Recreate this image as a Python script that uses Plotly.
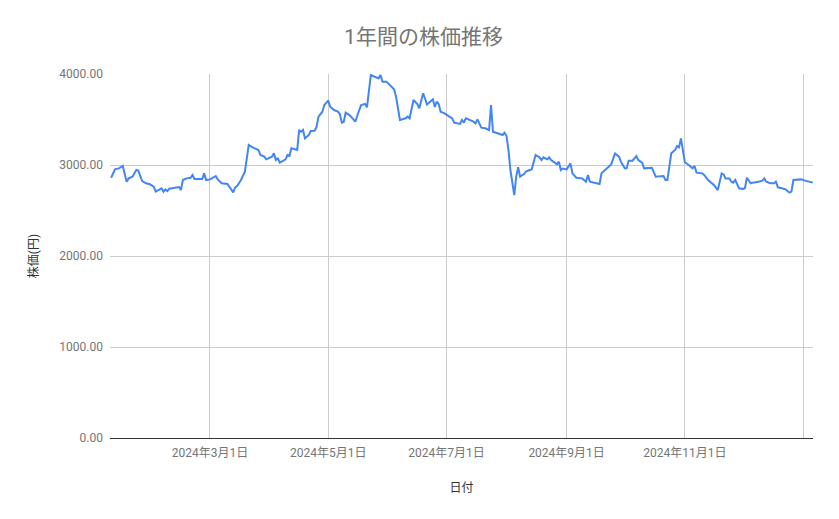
import plotly.graph_objects as go

# daily closing prices (yen)
dates = [
    "2024-01-10", "2024-01-11", "2024-01-12", "2024-01-14", "2024-01-16",
    "2024-01-18", "2024-01-19", "2024-01-21", "2024-01-23", "2024-01-24",
    "2024-01-26", "2024-01-28", "2024-01-30", "2024-02-01", "2024-02-02",
    "2024-02-05", "2024-02-06", "2024-02-07", "2024-02-08", "2024-02-09",
    "2024-02-12", "2024-02-14", "2024-02-15", "2024-02-16", "2024-02-18",
    "2024-02-20", "2024-02-21", "2024-02-22", "2024-02-24", "2024-02-26",
    "2024-02-27", "2024-02-28", "2024-03-01", "2024-03-04", "2024-03-05",
    "2024-03-07", "2024-03-10", "2024-03-11", "2024-03-13", "2024-03-14",
    "2024-03-15", "2024-03-17", "2024-03-19", "2024-03-20", "2024-03-21",
    "2024-03-23", "2024-03-26", "2024-03-27", "2024-03-29", "2024-03-30",
    "2024-03-31", "2024-04-02", "2024-04-03", "2024-04-04", "2024-04-05",
    "2024-04-06", "2024-04-07", "2024-04-09", "2024-04-10", "2024-04-11",
    "2024-04-12", "2024-04-14", "2024-04-15", "2024-04-16", "2024-04-17",
    "2024-04-18", "2024-04-19", "2024-04-21", "2024-04-22", "2024-04-24",
    "2024-04-25", "2024-04-26", "2024-04-28", "2024-04-29", "2024-05-01",
    "2024-05-02", "2024-05-04", "2024-05-06", "2024-05-07", "2024-05-08",
    "2024-05-09", "2024-05-10", "2024-05-12", "2024-05-14", "2024-05-15",
    "2024-05-17", "2024-05-18", "2024-05-20", "2024-05-21", "2024-05-23",
    "2024-05-25", "2024-05-27", "2024-05-28", "2024-05-29", "2024-05-31",
    "2024-06-02", "2024-06-04", "2024-06-05", "2024-06-07", "2024-06-10",
    "2024-06-11", "2024-06-12", "2024-06-14", "2024-06-16", "2024-06-17",
    "2024-06-19", "2024-06-21", "2024-06-22", "2024-06-24", "2024-06-25",
    "2024-06-26", "2024-06-27", "2024-06-28", "2024-06-30", "2024-07-02",
    "2024-07-04", "2024-07-05", "2024-07-08", "2024-07-09", "2024-07-10",
    "2024-07-11", "2024-07-13", "2024-07-15", "2024-07-16", "2024-07-17",
    "2024-07-19", "2024-07-21", "2024-07-23", "2024-07-24", "2024-07-25",
    "2024-07-28", "2024-07-30", "2024-07-31", "2024-08-01", "2024-08-02",
    "2024-08-03", "2024-08-05", "2024-08-06", "2024-08-07", "2024-08-08",
    "2024-08-10", "2024-08-11", "2024-08-13", "2024-08-14", "2024-08-16",
    "2024-08-18", "2024-08-19", "2024-08-20", "2024-08-22", "2024-08-23",
    "2024-08-24", "2024-08-26", "2024-08-27", "2024-08-28", "2024-08-29",
    "2024-08-30", "2024-09-01", "2024-09-03", "2024-09-04", "2024-09-06",
    "2024-09-09", "2024-09-11", "2024-09-12", "2024-09-13", "2024-09-16",
    "2024-09-18", "2024-09-19", "2024-09-22", "2024-09-24", "2024-09-26",
    "2024-09-28", "2024-09-29", "2024-10-01", "2024-10-02", "2024-10-03",
    "2024-10-05", "2024-10-07", "2024-10-08", "2024-10-10", "2024-10-11",
    "2024-10-13", "2024-10-15", "2024-10-17", "2024-10-19", "2024-10-21",
    "2024-10-22", "2024-10-23", "2024-10-25", "2024-10-27", "2024-10-28",
    "2024-10-29", "2024-10-30", "2024-10-31", "2024-11-01", "2024-11-03",
    "2024-11-04", "2024-11-05", "2024-11-06", "2024-11-07", "2024-11-10",
    "2024-11-11", "2024-11-13", "2024-11-16", "2024-11-18", "2024-11-20",
    "2024-11-21", "2024-11-22", "2024-11-24", "2024-11-25", "2024-11-26",
    "2024-11-27", "2024-11-29", "2024-12-01", "2024-12-02", "2024-12-03",
    "2024-12-05", "2024-12-06", "2024-12-09", "2024-12-11", "2024-12-12",
    "2024-12-13", "2024-12-15", "2024-12-17", "2024-12-18", "2024-12-19",
    "2024-12-21", "2024-12-23", "2024-12-25", "2024-12-26", "2024-12-27",
    "2024-12-29", "2024-12-31", "2025-01-02", "2025-01-04", "2025-01-06",
]

prices = [
    2860, 2908, 2952, 2963, 2990,
    2817, 2853, 2872, 2945, 2938,
    2824, 2799, 2788, 2762, 2707,
    2744, 2707, 2732, 2714, 2740,
    2755, 2758, 2725, 2835, 2853,
    2860, 2890, 2846, 2846, 2846,
    2908, 2835, 2842, 2879, 2842,
    2799, 2791, 2762, 2700, 2755,
    2769, 2835, 2927, 3073, 3220,
    3194, 3165, 3110, 3092, 3062,
    3073, 3092, 3128, 3055, 3073,
    3026, 3037, 3062, 3110, 3099,
    3183, 3172, 3165, 3385, 3366,
    3385, 3293, 3330, 3374, 3377,
    3421, 3531, 3586, 3659, 3707,
    3641, 3604, 3586, 3560, 3465,
    3473, 3575, 3549, 3502, 3476,
    3604, 3659, 3670, 3634, 3989,
    3970, 3952, 3989, 3916, 3916,
    3879, 3832, 3751, 3495, 3513,
    3531, 3513, 3714, 3670, 3623,
    3788, 3665, 3683, 3722, 3637,
    3696, 3670, 3586, 3568, 3538,
    3513, 3465, 3451, 3495, 3465,
    3513, 3495, 3476, 3458, 3502,
    3410, 3403, 3385, 3659, 3366,
    3348, 3330, 3355, 3319, 3165,
    2945, 2670, 2872, 2975, 2872,
    2901, 2927, 2945, 2952, 3110,
    3084, 3055, 3084, 3062, 3084,
    3055, 3029, 3007, 3037, 2945,
    2960, 2952, 3018, 2908, 2860,
    2853, 2817, 2890, 2817, 2799,
    2791, 2908, 2963, 3007, 3128,
    3092, 3037, 2963, 2963, 3048,
    3048, 3099, 3055, 3026, 2963,
    2970, 2970, 2872, 2872, 2879,
    2835, 2835, 3128, 3165, 3209,
    3194, 3293, 3147, 3030, 3000,
    2985, 2963, 2989, 2916, 2908,
    2890, 2835, 2780, 2725, 2908,
    2897, 2853, 2853, 2817, 2806,
    2835, 2744, 2736, 2744, 2860,
    2799, 2806, 2817, 2828, 2853,
    2817, 2799, 2799, 2817, 2755,
    2744, 2732, 2696, 2707, 2835,
    2842, 2842, 2828, 2817, 2806,
]

tick_dates = ["2024-03-01", "2024-05-01", "2024-07-01", "2024-09-01", "2024-11-01", "2025-01-01"]
tick_labels = ["2024年3月1日", "2024年5月1日", "2024年7月1日", "2024年9月1日", "2024年11月1日", ""]

y_ticks = [0, 1000, 2000, 3000, 4000]

font = "Roboto, Noto Sans CJK JP, sans-serif"

fig = go.Figure()
fig.add_trace(go.Scatter(
    x=dates, y=prices, mode="lines",
    line=dict(color="#4285F4", width=2),
    showlegend=False,
))

# page body adds an 8px offset, so the figure is a bit smaller than the window
fig.update_layout(
    width=831, height=511,
    margin=dict(l=102, r=26, t=66, b=81),
    paper_bgcolor="white", plot_bgcolor="white",
    font=dict(family=font, color="#757575", size=12),
    title=dict(text="1年間の株価推移", x=0.5, xref="container", xanchor="center",
               y=0.943, yref="container", yanchor="middle",
               font=dict(size=21, color="#757575", family=font)),
    xaxis=dict(
        type="date",
        range=["2024-01-09 10:00", "2025-01-06 03:00"],
        tickvals=tick_dates, ticktext=tick_labels,
        showgrid=True, gridcolor="#cccccc", gridwidth=1,
        showline=False, zeroline=False, ticks="",
        ticklabelstandoff=6,
        tickfont=dict(size=12, color="#757575"),
        title=dict(text="日付", font=dict(size=12, color="#333333"), standoff=24),
    ),
    yaxis=dict(
        range=[0, 4000],
        tickvals=y_ticks, tickformat=".2f",
        showgrid=True, gridcolor="#cccccc", gridwidth=1,
        zeroline=True, zerolinecolor="#333333", zerolinewidth=1,
        ticks="", ticklabelstandoff=6,
        tickfont=dict(size=12, color="#757575"),
        title=dict(text="株価(円)", font=dict(size=12, color="#333333"), standoff=18),
    ),
)

fig.write_html("out.html")
